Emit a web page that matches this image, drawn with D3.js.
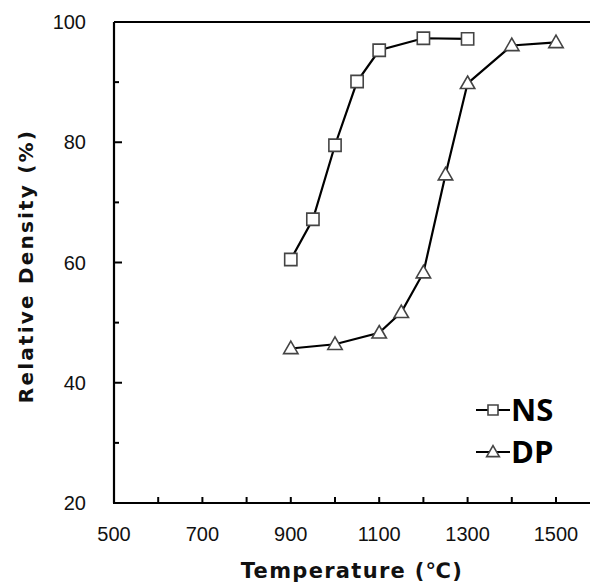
<!DOCTYPE html>
<head>
  <meta charset="utf-8">
  <title>Relative density</title>
  <script src="https://d3js.org/d3.v7.min.js"></script>
  <style>
    body { margin: 0; background: #fff; }
    .tick-label { font-family: 'Liberation Sans', sans-serif; font-size: 20px; fill: #111; }
    .axis-title { font-family: 'DejaVu Sans', sans-serif; font-weight: bold; font-size: 19px; fill: #111; letter-spacing: 1.5px; }
    .legend-text { font-family: 'Open Sans', sans-serif; font-weight: bold; font-size: 31px; fill: #000; }
    .series-line { fill: none; stroke: #000; stroke-width: 2.2; }
    .marker { fill: #fff; stroke: #444; stroke-width: 1.6; }
  </style>
</head>
<body>
<script>
  // data
  var nsTemp = [900, 950, 1000, 1050, 1100, 1200, 1300];
  var nsDensity = [60.5, 67.2, 79.5, 90.1, 95.3, 97.3, 97.2];
  var dpTemp = [900, 1000, 1100, 1150, 1200, 1250, 1300, 1400, 1500];
  var dpDensity = [45.7, 46.4, 48.3, 51.7, 58.3, 74.6, 89.8, 96.1, 96.6];
  var xTickLabels = [500, 700, 900, 1100, 1300, 1500];
  var yTickLabels = [20, 40, 60, 80, 100];

  var W = 590, H = 586;
  var svg = d3.select("body").append("svg")
    .attr("width", W)
    .attr("height", H);

  var plotLeft = 114, plotTop = 22, plotBottom = 503;

  var x = d3.scaleLinear().domain([500, 1600]).range([plotLeft, plotLeft + 1100 * 0.442]);
  var y = d3.scaleLinear().domain([20, 100]).range([plotBottom, plotTop]);

  // frame: left axis, bottom axis, top border
  svg.append("line")
    .attr("x1", plotLeft).attr("x2", W + 10).attr("y1", plotTop).attr("y2", plotTop)
    .attr("stroke", "#000").attr("stroke-width", 2.2);
  svg.append("line")
    .attr("x1", plotLeft).attr("x2", plotLeft).attr("y1", plotTop).attr("y2", plotBottom)
    .attr("stroke", "#000").attr("stroke-width", 2.2);
  svg.append("line")
    .attr("x1", plotLeft - 1).attr("x2", W + 10).attr("y1", plotBottom).attr("y2", plotBottom)
    .attr("stroke", "#000").attr("stroke-width", 2.2);

  // y ticks, inward; long every 20, short every 10
  var yTicks = d3.range(30, 100, 10);
  svg.append("g").selectAll("line")
    .data(yTicks)
    .enter().append("line")
      .attr("x1", plotLeft)
      .attr("x2", d => plotLeft + (d % 20 === 0 ? 8 : 5))
      .attr("y1", d => y(d))
      .attr("y2", d => y(d))
      .attr("stroke", "#000").attr("stroke-width", 2);

  svg.append("g").selectAll("text")
    .data(yTickLabels)
    .enter().append("text")
      .attr("class", "tick-label")
      .attr("x", plotLeft - 28)
      .attr("y", d => y(d) + 7)
      .attr("text-anchor", "end")
      .text(d => d);

  // x ticks, inward every 100
  var xTicks = d3.range(600, 1600, 100);
  svg.append("g").selectAll("line")
    .data(xTicks)
    .enter().append("line")
      .attr("x1", d => x(d))
      .attr("x2", d => x(d))
      .attr("y1", plotBottom)
      .attr("y2", plotBottom - 6)
      .attr("stroke", "#000").attr("stroke-width", 2);

  svg.append("g").selectAll("text")
    .data(xTickLabels)
    .enter().append("text")
      .attr("class", "tick-label")
      .attr("x", d => x(d))
      .attr("y", 541)
      .attr("text-anchor", "middle")
      .text(d => d);

  // axis titles
  svg.append("text")
    .attr("class", "axis-title")
    .attr("text-anchor", "middle")
    .attr("transform", "translate(33,266) rotate(-90)")
    .style("font-size", "20px")
    .style("letter-spacing", "2.2px")
    .text("Relative Density (%)");

  svg.append("text")
    .attr("class", "axis-title")
    .attr("text-anchor", "middle")
    .attr("x", 352)
    .attr("y", 578)
    .style("font-size", "21px")
    .style("letter-spacing", "1.3px")
    .text("Temperature (℃)");

  var line = d3.line().x(d => x(d[0])).y(d => y(d[1]));
  var nsData = d3.zip(nsTemp, nsDensity);
  var dpData = d3.zip(dpTemp, dpDensity);

  var sq = d3.symbol().type(d3.symbolSquare).size(150);
  var tri = d3.symbol().type(d3.symbolTriangle).size(90);

  svg.append("path").datum(nsData).attr("class", "series-line").attr("d", line);
  svg.append("path").datum(dpData).attr("class", "series-line").attr("d", line);

  svg.append("g").selectAll("path")
    .data(nsData)
    .enter().append("path")
      .attr("class", "marker")
      .attr("transform", d => "translate(" + x(d[0]) + "," + y(d[1]) + ")")
      .attr("d", sq);

  svg.append("g").selectAll("path")
    .data(dpData)
    .enter().append("path")
      .attr("class", "marker")
      .attr("transform", d => "translate(" + x(d[0]) + "," + (y(d[1]) + 1) + ")")
      .attr("d", tri);

  // legend
  var legend = [["NS", 410], ["DP", 452]];
  legend.forEach(function(l) {
    var g = svg.append("g").attr("transform", "translate(0," + l[1] + ")");
    g.append("line").attr("x1", 476).attr("x2", 510).attr("y1", 0).attr("y2", 0)
      .attr("stroke", "#000").attr("stroke-width", 2);
    g.append("path").attr("class", "marker")
      .attr("transform", "translate(493," + (l[0] === "DP" ? 1 : 0) + ")")
      .attr("d", l[0] === "NS" ? d3.symbol().type(d3.symbolSquare).size(100) : d3.symbol().type(d3.symbolTriangle).size(70));
    g.append("text").attr("class", "legend-text")
      .attr("x", 511).attr("y", 11)
      .text(l[0]);
  });
</script>
</body>
